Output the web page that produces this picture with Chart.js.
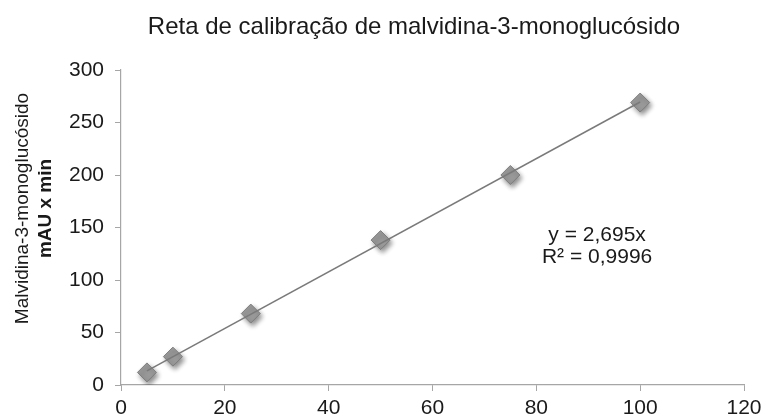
<!DOCTYPE html>
<html>
<head>
<meta charset="utf-8">
<script src="https://cdn.jsdelivr.net/npm/chart.js@4"></script>
<style>
  html, body { margin: 0; padding: 0; background: #ffffff; }
  #wrap { width: 762px; height: 419px; position: relative; }
</style>
</head>
<body>
<div id="wrap"><canvas id="chart" width="762" height="419"></canvas></div>
<script>
// Calibration standards: concentration vs. peak area
const concentrations = [5, 10, 25, 50, 75, 100];
const peakAreas = [12, 27, 68, 138, 200, 269];

// Linear fit through the origin, as given by the equation label
const slope = 2.695;
const rSquared = '0,9996';
const equationLines = ['y = 2,695x', 'R² = ' + rSquared];

const xTicks = [0, 20, 40, 60, 80, 100, 120];
const yTicks = [0, 50, 100, 150, 200, 250, 300];

const chartTitle = 'Reta de calibração de malvidina-3-monoglucósido';
const yTitleLines = ['Malvidina-3-monoglucósido', 'mAU x min'];

const FONT = "'Liberation Sans', Arial, sans-serif";
const TEXT = '#1a1a1a';
const AXIS = '#a6a6a6';

const points = concentrations.map((x, i) => ({ x: x, y: peakAreas[i] }));
const fitFrom = concentrations[0];
const fitTo = concentrations[concentrations.length - 1];
const fitLine = [
  { x: fitFrom, y: slope * fitFrom },
  { x: fitTo, y: slope * fitTo }
];

// Anchor of the equation label in data units
const eqX = 91.7;
const eqY = 143;

// Soft drop shadow under the diamond markers
const markerShadow = {
  id: 'markerShadow',
  beforeDatasetDraw(chart, args) {
    if (args.meta.type !== 'scatter') return;
    const ctx = chart.ctx;
    ctx.save();
    ctx.shadowColor = 'rgba(0,0,0,0.45)';
    ctx.shadowBlur = 5;
    ctx.shadowOffsetX = 2;
    ctx.shadowOffsetY = 3;
  },
  afterDatasetDraw(chart, args) {
    if (args.meta.type !== 'scatter') return;
    chart.ctx.restore();
  }
};

// Title, two-line vertical axis title (second line bold) and the fit equation
const annotations = {
  id: 'annotations',
  afterDraw(chart) {
    const ctx = chart.ctx;
    const yScale = chart.scales.y;
    const xScale = chart.scales.x;
    ctx.save();
    ctx.fillStyle = TEXT;
    ctx.textAlign = 'center';
    ctx.textBaseline = 'middle';

    ctx.font = '24px ' + FONT;
    ctx.fillText(chartTitle, 414, 27);

    const cy = (yScale.top + yScale.bottom) / 2 - 19;
    ctx.save();
    ctx.translate(23, cy);
    ctx.rotate(-Math.PI / 2);
    ctx.font = '19px ' + FONT;
    ctx.fillText(yTitleLines[0], 0, 0);
    ctx.font = 'bold 19px ' + FONT;
    ctx.fillText(yTitleLines[1], 0, 23);
    ctx.restore();

    ctx.font = '21px ' + FONT;
    const ex = xScale.getPixelForValue(eqX);
    const ey = yScale.getPixelForValue(eqY);
    ctx.fillText(equationLines[0], ex, ey);
    ctx.fillText(equationLines[1], ex, ey + 22);
    ctx.restore();
  }
};

new Chart(document.getElementById('chart'), {
  type: 'scatter',
  data: {
    datasets: [
      {
        type: 'line',
        label: 'Linear',
        data: fitLine,
        borderColor: '#7a7a7a',
        borderWidth: 1.5,
        pointRadius: 0,
        fill: false,
        order: 0
      },
      {
        type: 'scatter',
        label: 'Padrões',
        data: points,
        pointStyle: 'rectRot',
        pointRadius: 9.5,
        pointHoverRadius: 9.5,
        backgroundColor: '#9a9a9a',
        borderColor: '#7d7d7d',
        borderWidth: 1,
        order: 1
      }
    ]
  },
  options: {
    responsive: false,
    animation: false,
    events: [],
    layout: { padding: { left: 0, right: 18, top: 70, bottom: 0 } },
    plugins: {
      legend: { display: false },
      tooltip: { enabled: false },
      title: { display: false }
    },
    scales: {
      x: {
        type: 'linear',
        min: 0,
        max: 120,
        afterBuildTicks(scale) { scale.ticks = xTicks.map(v => ({ value: v })); },
        afterFit(scale) {
          scale.height = 34;
          scale.paddingLeft = 0;
          scale.paddingRight = 0;
        },
        grid: { drawOnChartArea: false, color: AXIS, tickLength: 6 },
        border: { color: AXIS, width: 1.2 },
        ticks: { color: TEXT, font: { family: FONT, size: 21 }, padding: 5, maxRotation: 0 }
      },
      y: {
        type: 'linear',
        min: 0,
        max: 300,
        afterBuildTicks(scale) { scale.ticks = yTicks.map(v => ({ value: v })); },
        afterFit(scale) {
          scale.width = 121;
          scale.paddingTop = 0;
          scale.paddingBottom = 0;
        },
        grid: { drawOnChartArea: false, color: AXIS, tickLength: 6 },
        border: { color: AXIS, width: 1.2 },
        ticks: { color: TEXT, font: { family: FONT, size: 21 }, padding: 11 }
      }
    }
  },
  plugins: [markerShadow, annotations]
});
</script>
</body>
</html>
